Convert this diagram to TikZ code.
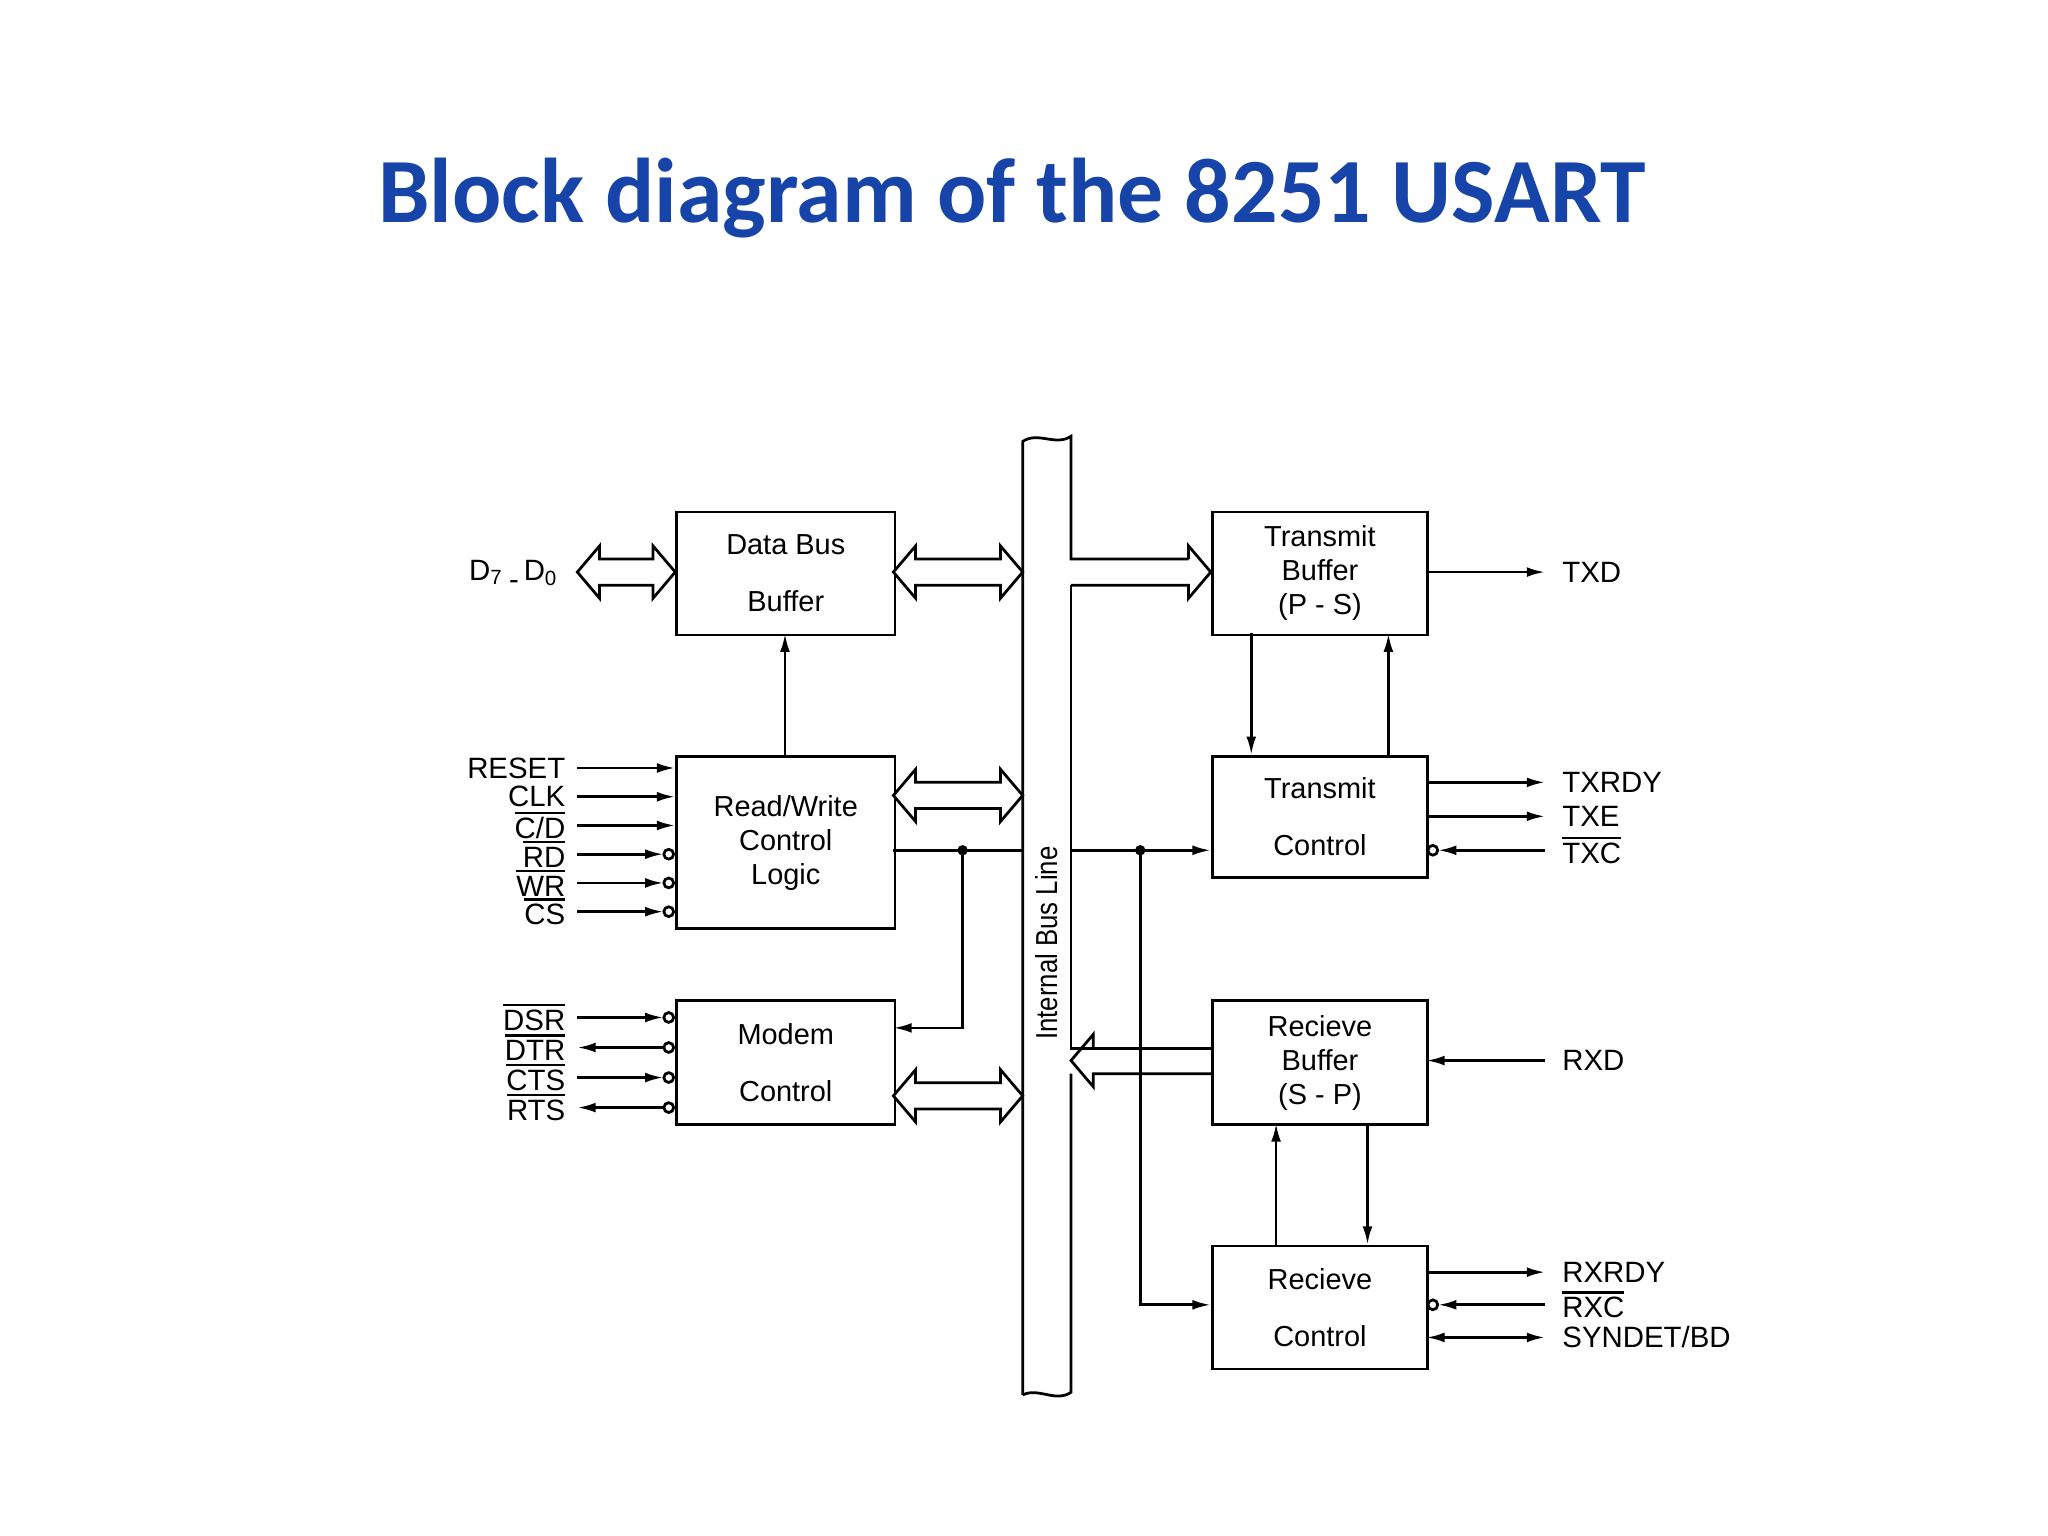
\documentclass[tikz,border=0pt]{standalone}
\usepackage{fontspec}
\setmainfont{Liberation Sans}
\newfontfamily\titlefont{Carlito}
\usetikzlibrary{arrows.meta}
\definecolor{titleblue}{RGB}{22,68,168}
\newcommand\dblarr[3]{% x1,x2,y
 \draw[semithick,fill=white] (#1,#3) -- (#1+17,#3-20) -- (#1+17,#3-10) -- (#2-17,#3-10) -- (#2-17,#3-20) -- (#2,#3) -- (#2-17,#3+20) -- (#2-17,#3+10) -- (#1+17,#3+10) -- (#1+17,#3+20) -- cycle;}
\newcommand\ovl[1]{\setbox0\hbox{#1}\vbox{\hrule width\wd0 height0.5pt\kern0.8pt\box0}}
\begin{document}
\begin{tikzpicture}[x=0.01cm,y=-0.01cm,
  blk/.style={draw,semithick,anchor=north west,align=center,inner sep=1pt,font=\fontsize{6.3}{7.4}\selectfont},
  sig/.style={font=\fontsize{6.4}{7}\selectfont,inner sep=1pt},
  arr/.style={semithick,-{Latex[length=0.14cm,width=0.075cm]}},
  bub/.style={draw,semithick,fill=white,circle,inner sep=0pt,minimum size=0.075cm}]
\useasboundingbox (0,0) rectangle (1568,1176);
\node[font=\titlefont\bfseries\fontsize{20}{24}\selectfont,text=titleblue] (title) at (775,152) {Block diagram of the 8251 USART};
% boxes
\node[blk,minimum width=1.67cm,minimum height=0.94cm] (db) at (517,391) {Data Bus\\[5pt]Buffer};
\node[blk,minimum width=1.67cm,minimum height=1.32cm] (rw) at (517,578) {Read/Write\\Control\\Logic};
\node[blk,minimum width=1.67cm,minimum height=0.95cm] (mc) at (517,765) {Modem\\[5pt]Control};
\node[blk,minimum width=1.65cm,minimum height=0.94cm] (tb) at (927,391) {Transmit\\Buffer\\(P - S)};
\node[blk,minimum width=1.65cm,minimum height=0.93cm] (tc) at (927,578) {Transmit\\[5pt]Control};
\node[blk,minimum width=1.65cm,minimum height=0.95cm] (rb) at (927,765) {Recieve\\Buffer\\(S - P)};
\node[blk,minimum width=1.65cm,minimum height=0.94cm] (rc) at (927,953) {Recieve\\[5pt]Control};
% bus
\draw[semithick] (783,1068) -- (783,338) .. controls (795,330) and (808,342) .. (820,334) -- (820,428) -- (910,428);
\draw[semithick] (820,448) -- (820,803) -- (927,803);
\draw[semithick] (820,822) -- (820,1066) .. controls (808,1074) and (795,1062) .. (783,1068);
\draw[semithick] (910,428) -- (910,418) -- (927,438) -- (910,458) -- (910,448) -- (820,448);
\draw[semithick] (927,822) -- (837,822) -- (837,832) -- (820,812) -- (837,792) -- (837,803);
\node[rotate=90,font=\fontsize{6.6}{7}\selectfont,xscale=0.85] (bl) at (801,722) {Internal Bus Line};
% hollow double arrows
\dblarr{442}{517}{438}
\dblarr{684}{783}{438}
\dblarr{684}{783}{609}
\dblarr{684}{783}{839}
\node[sig,anchor=east] (d70) at (432,440) {D\textsubscript{7}\,\raisebox{-2pt}{-}\,D\textsubscript{0}};
% internal connections
\draw[arr] (601,578) -- (601,485);
\draw[semithick] (684,651) -- (783,651);
\fill (737,651) circle (4);
\draw[arr] (737,651) -- (737,787) -- (684,787);
\draw[arr] (820,651) -- (927,651);
\fill (873,651) circle (4);
\draw[arr] (873,651) -- (873,999) -- (927,999);
\draw[arr] (958,485) -- (958,578);
\draw[arr] (1063,578) -- (1063,485);
\draw[arr] (977,953) -- (977,860);
\draw[arr] (1047,860) -- (1047,953);
% left signals
\draw[arr] (442,588) -- (517,588); \node[sig,anchor=east] (s1) at (437,588) {RESET};
\draw[arr] (442,610) -- (517,610); \node[sig,anchor=east] (s2) at (437,610) {CLK};
\draw[arr] (442,632) -- (517,632); \node[sig,anchor=east] (s3) at (437,632) {\ovl{C/D}};
\foreach \y/\t in {654/RD,676/WR,698/CS,779/DSR,825/CTS}{
  \draw[arr] (442,\y) -- (508,\y); \node[bub] at (512,\y) {};
  \node[sig,anchor=east] at (437,\y) {\ovl{\t}};}
\foreach \y/\t in {802/DTR,848/RTS}{
  \draw[arr] (508,\y) -- (442,\y); \node[bub] at (512,\y) {};
  \node[sig,anchor=east] at (437,\y) {\ovl{\t}};}
% right signals
\draw[arr] (1092,438) -- (1183,438); \node[sig,anchor=west] (txd) at (1192,438) {TXD};
\draw[arr] (1092,599) -- (1183,599); \node[sig,anchor=west] (txrdy) at (1192,599) {TXRDY};
\draw[arr] (1092,625) -- (1183,625); \node[sig,anchor=west] (txe) at (1192,625) {TXE};
\draw[arr] (1183,651) -- (1101,651); \node[bub] at (1097,651) {}; \node[sig,anchor=west] (txc) at (1192,651) {\ovl{TXC}};
\draw[arr] (1183,812) -- (1092,812); \node[sig,anchor=west] (rxd) at (1192,812) {RXD};
\draw[arr] (1092,974) -- (1183,974); \node[sig,anchor=west] (rxrdy) at (1192,974) {RXRDY};
\draw[arr] (1183,999) -- (1101,999); \node[bub] at (1097,999) {}; \node[sig,anchor=west] (rxc) at (1192,999) {\ovl{RXC}};
\draw[semithick,{Latex[length=0.14cm,width=0.075cm]}-{Latex[length=0.14cm,width=0.075cm]}] (1092,1024) -- (1183,1024); \node[sig,anchor=west] (syn) at (1192,1024) {SYNDET/BD};
\end{tikzpicture}
\end{document}
